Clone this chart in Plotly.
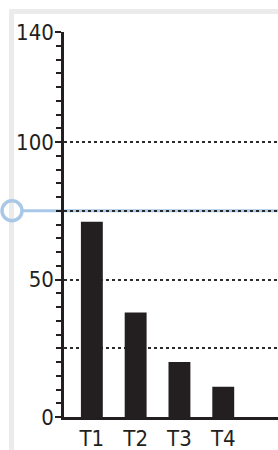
import plotly.graph_objects as go

categories = ["T1", "T2", "T3", "T4"]
values = [71, 38, 20, 11]
y_tick_vals = [0, 50, 100, 140]
y_tick_text = ["0", "50", "100", "140"]
grid_vals = [25, 50, 75, 100]
target_value = 75

W, H = 278, 450
L, R, T, B = 64, 0, 32, 33
pw, ph = W - L - R, H - T - B

def px_x(p):
    return (p - L) / pw

def px_y(p):
    return (H - B - p) / ph

fig = go.Figure()
fig.add_trace(go.Bar(x=categories, y=values, marker=dict(color="#231f20", line=dict(width=0)),
                     width=0.5, hoverinfo="skip", showlegend=False))
# invisible trace on y2 for dotted grid
fig.add_trace(go.Scatter(x=categories, y=values, yaxis="y2", mode="markers",
                         marker=dict(opacity=0), hoverinfo="skip", showlegend=False))

font = dict(family="DejaVu Sans Condensed, Liberation Sans Narrow, DejaVu Sans", size=22, color="#231f20")

fig.update_layout(
    width=W, height=H,
    margin=dict(l=L, r=R, t=T, b=B, pad=0, autoexpand=False),
    paper_bgcolor="white", plot_bgcolor="rgba(0,0,0,0)",
    bargap=0.5,
    xaxis=dict(range=[-0.636, 4.25], showline=True, linecolor="#231f20", linewidth=2.5,
               ticks="", tickfont=font, showgrid=False, zeroline=False, fixedrange=True,
               automargin=False),
    yaxis=dict(range=[0, 140], showline=True, linecolor="#231f20", linewidth=2.5,
               tickvals=y_tick_vals, ticktext=y_tick_text, ticks="outside", ticklen=6,
               tickwidth=2, tickcolor="#231f20", tickfont=font, showgrid=False, zeroline=False,
               minor=dict(dtick=5, ticks="outside", ticklen=5, tickwidth=2, tickcolor="#231f20"),
               layer="above traces", automargin=False, ticklabelstandoff=-3),
    yaxis2=dict(range=[0, 140], overlaying="y", tickvals=grid_vals, showticklabels=False,
                showgrid=True, gridcolor="#2a2a2a", gridwidth=2, griddash="dot",
                zeroline=False, showline=False, ticks=""),
)

# target line and handle
fig.add_shape(type="line", xref="paper", yref="y", x0=px_x(22), x1=1, y0=target_value, y1=target_value,
              line=dict(color="#a9c8e8", width=3), layer="below")
fig.add_shape(type="circle", xref="paper", yref="y", xsizemode="pixel", ysizemode="pixel",
              xanchor=px_x(12), yanchor=target_value, x0=-10, x1=10, y0=-10, y1=10,
              line=dict(color="#a9c8e8", width=3.5), fillcolor="rgba(0,0,0,0)")
# gray frame
fig.add_shape(type="line", xref="paper", yref="paper", x0=px_x(11.5), x1=px_x(11.5),
              y0=px_y(9), y1=px_y(452), line=dict(color="#ebebeb", width=5), layer="below")
fig.add_shape(type="line", xref="paper", yref="paper", x0=px_x(9), x1=px_x(280),
              y0=px_y(11.5), y1=px_y(11.5), line=dict(color="#ebebeb", width=5), layer="below")

fig.write_html("out.html", config={"displayModeBar": False},
               post_script="document.body.style.margin='0px';")
